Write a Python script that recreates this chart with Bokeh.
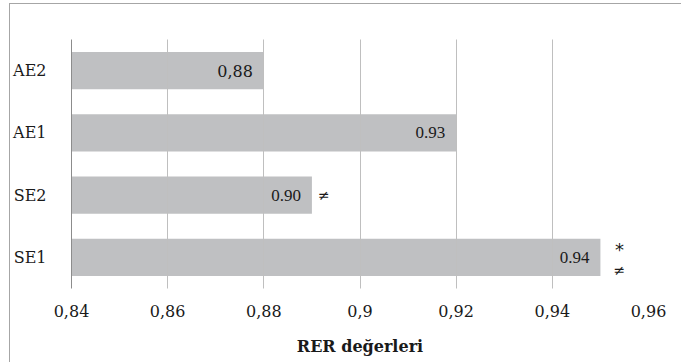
from bokeh.plotting import figure
from bokeh.models import ColumnDataSource, FixedTicker, FactorRange, Range1d, BoxAnnotation
from bokeh.core.properties import value
from bokeh.embed import file_html
from bokeh.resources import INLINE

categories = ["SE1", "SE2", "AE1", "AE2"]
bar_values = [0.95, 0.89, 0.92, 0.88]
value_labels = ["0.94", "0.90", "0.93", "0,88"]
x_ticks = [0.84, 0.86, 0.88, 0.90, 0.92, 0.94, 0.96]
x_tick_labels = ["0,84", "0,86", "0,88", "0,9", "0,92", "0,94", "0,96"]
x_title = "RER değerleri"
base_value = 0.84

src = ColumnDataSource(dict(cat=categories, val=bar_values, lab=value_labels))

W, H = 671, 358
p = figure(width=W, height=H, output_backend="svg", toolbar_location=None,
           y_range=FactorRange(factors=categories, range_padding=0),
           x_range=Range1d(0.84, 0.96),
           min_border_left=59, min_border_right=33, min_border_top=35, min_border_bottom=74,
           styles={"margin-top": "4px", "margin-left": "10px",
                   "box-shadow": "-1px 0 0 #A6A6A6, 0 -1px 0 #A6A6A6, -1px -1px 0 #A6A6A6"})
p.outline_line_color = None
p.background_fill_color = "white"
p.border_fill_color = "white"

# bottom edge of the chart border (canvas units)
p.add_layout(BoxAnnotation(left=-2, right=W + 2, top=H - 1, bottom=H,
                           left_units="canvas", right_units="canvas",
                           top_units="canvas", bottom_units="canvas",
                           fill_color="#A6A6A6", fill_alpha=1, line_color=None,
                           level="overlay"))

p.hbar(y="cat", left=base_value, right="val", height=0.6, source=src,
       fill_color="#BFC0C2", line_color=None)

# value labels
for c, v, l in zip(categories, bar_values, value_labels):
    fnt = "DejaVu Serif" if "," in l else "Liberation Serif"
    size = "16px" if "," in l else "17px"
    p.text(x=[v], y=[c], text=[l], x_offset=-11, text_align="right", text_baseline="middle",
           text_font=value(fnt), text_font_size=size, text_color="#1a1a1a")

# significance marks
p.text(x=[bar_values[1]], y=[categories[1]], text=["≠"], x_offset=12, y_offset=0,
       text_align="center", text_baseline="middle", text_font=value("DejaVu Sans"),
       text_font_size="14px", text_color="#1a1a1a")
p.text(x=[bar_values[0]], y=[categories[0]], text=["*"], x_offset=19, y_offset=-8,
       text_align="center", text_baseline="middle", text_font=value("DejaVu Sans"),
       text_font_size="18px", text_color="#1a1a1a")
p.text(x=[bar_values[0]], y=[categories[0]], text=["≠"], x_offset=19, y_offset=13,
       text_align="center", text_baseline="middle", text_font=value("DejaVu Sans"),
       text_font_size="14px", text_color="#1a1a1a")

p.xaxis.ticker = FixedTicker(ticks=x_ticks)
p.xaxis.major_label_overrides = {t: s for t, s in zip(x_ticks, x_tick_labels)}
p.xgrid.ticker = FixedTicker(ticks=x_ticks)
p.xgrid.grid_line_color = "#BFBFBF"
p.xgrid.level = "overlay"
p.ygrid.grid_line_color = None

p.xaxis.axis_line_color = None
p.xaxis.major_tick_line_color = None
p.xaxis.minor_tick_line_color = None
p.xaxis.major_label_standoff = 10
p.xaxis.major_label_text_font = "DejaVu Serif"
p.xaxis.major_label_text_font_size = "16px"
p.xaxis.major_label_text_color = "#1a1a1a"
p.xaxis.axis_label = x_title
p.xaxis.axis_label_text_font = "DejaVu Serif"
p.xaxis.axis_label_text_font_style = "bold"
p.xaxis.axis_label_text_font_size = "16px"
p.xaxis.axis_label_text_color = "#1a1a1a"
p.xaxis.axis_label_standoff = 17

p.yaxis.axis_line_color = "#8C8C8C"
p.yaxis.major_tick_line_color = None
p.yaxis.minor_tick_line_color = None
p.yaxis.major_label_standoff = 19
p.yaxis.major_label_text_font = "DejaVu Serif"
p.yaxis.major_label_text_font_size = "16px"
p.yaxis.major_label_text_color = "#1a1a1a"

open("out.html", "w").write(file_html(p, INLINE))
